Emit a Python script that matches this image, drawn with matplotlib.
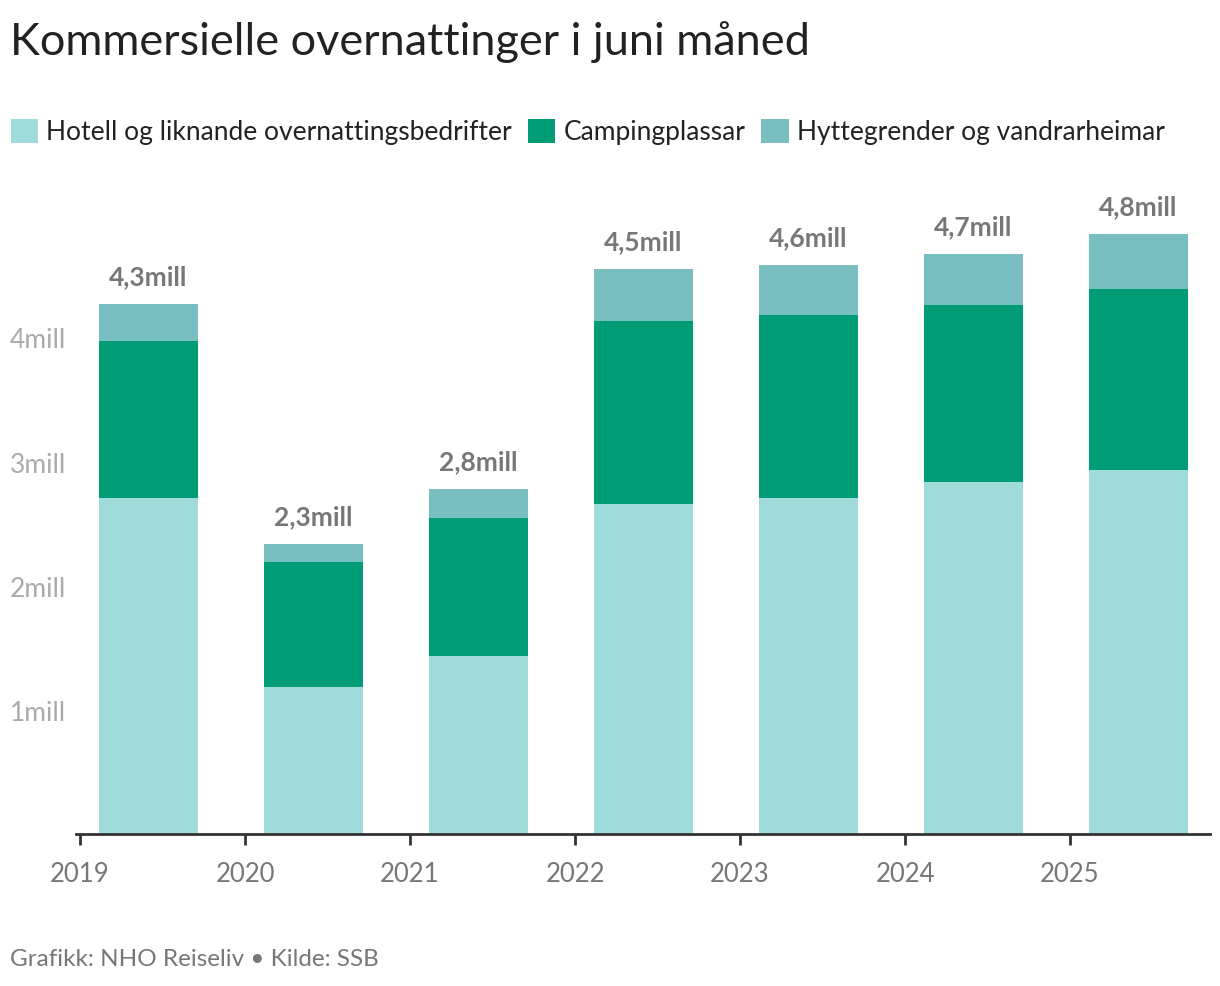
import numpy as np
import matplotlib
matplotlib.use("Agg")
import matplotlib.pyplot as plt
from matplotlib.patches import Patch
from matplotlib import transforms

plt.rcParams['font.family'] = ['Lato', 'DejaVu Sans']

years = [2019, 2020, 2021, 2022, 2023, 2024, 2025]
hotell = [2.70, 1.18, 1.43, 2.65, 2.70, 2.83, 2.93]
camping = [1.26, 1.01, 1.11, 1.47, 1.47, 1.42, 1.45]
hytter = [0.30, 0.14, 0.23, 0.42, 0.40, 0.41, 0.44]
series_names = ['Hotell og liknande overnattingsbedrifter', 'Campingplassar',
                'Hyttegrender og vandrarheimar']
colors = ['#9edbda', '#009c76', '#79bec1']
yticks = [1, 2, 3, 4]

W, H = 1220, 986
fig = plt.figure(figsize=(W / 100, H / 100), dpi=100)
# axes placed in pixel coords
left, right, bottom, top = 76, 1210, 834, 190
ax = fig.add_axes([left / W, 1 - bottom / H, (right - left) / W, (bottom - top) / H])

step = 165.0  # px per year
x = np.array(years, dtype=float)
off = 0.115
width = 0.598
b1 = np.array(hotell)
b2 = b1 + np.array(camping)
tot = b2 + np.array(hytter)
ax.bar(x + off, hotell, width, align='edge', color=colors[0], lw=0)
ax.bar(x + off, camping, width, bottom=b1, align='edge', color=colors[1], lw=0)
ax.bar(x + off, hytter, width, bottom=b2, align='edge', color=colors[2], lw=0)

for xi, t in zip(x, tot):
    lab = f"{t:.1f}".replace('.', ',') + 'mill'
    ax.text(xi + off + width / 2, t + 0.12, lab, ha='center', va='bottom',
            fontsize=19, fontweight='bold', color='#777777')

ax.set_xlim(2019 - 4 / step, 2019 + (right - 80) / step)
ax.set_ylim(0, (bottom - top) / 124.4)
for s in ['top', 'right', 'left']:
    ax.spines[s].set_visible(False)
ax.spines['bottom'].set_color('#333333')
ax.spines['bottom'].set_linewidth(2)
ax.set_xticks(years)
ax.set_xticklabels([str(y) for y in years], fontsize=18.5, color='#777777')
ax.tick_params(axis='x', length=8, width=2, color='#333333', pad=12)
ax.set_yticks([])

tr = transforms.blended_transform_factory(fig.transFigure, ax.transData)
for v in yticks:
    ax.text(10 / W, v - 0.035, f"{v}mill", transform=tr, ha='left', va='center',
            fontsize=19, color='#aaaaaa')

fig.text(10 / W, 1 - 42 / H, 'Kommersielle overnattinger i juni måned',
         fontsize=32.5, color='#222222', ha='left', va='center')

handles = [Patch(facecolor=c, edgecolor='none') for c in colors]
fig.legend(handles, series_names, loc='center left', bbox_to_anchor=(0.0, 1 - 132 / H),
           ncol=3, frameon=False, fontsize=19, handlelength=1.05, handleheight=1.05,
           handletextpad=0.3, columnspacing=0.6, borderaxespad=0, labelcolor='#222222')

fig.text(10 / W, 1 - 960 / H, 'Grafikk: NHO Reiseliv • Kilde: SSB',
         fontsize=17.5, color='#777777', ha='left', va='center')

fig.savefig('out.png', dpi=100)
